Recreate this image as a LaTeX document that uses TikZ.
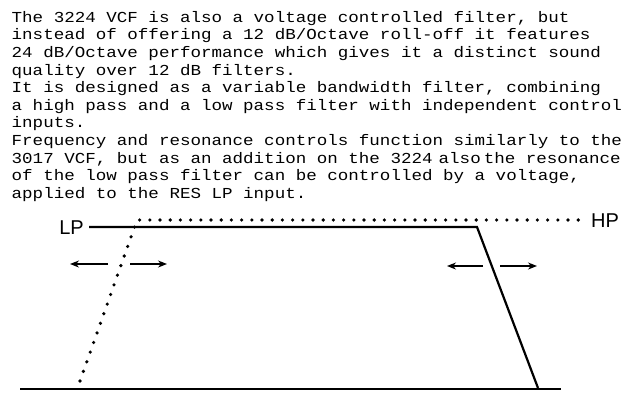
\documentclass[tikz,border=0pt]{standalone}
\usepackage{fontspec}
\setmainfont{Liberation Mono}[FakeStretch=1.15]
\newfontfamily\labelfont{Liberation Sans}
\usetikzlibrary{arrows.meta,positioning}

\begin{document}
\begin{tikzpicture}[x=1pt,y=-1pt,
  response/.style={line width=2.2pt},
  dotted response/.style={line width=3.6pt,line cap=round,dash pattern=on 0pt off 10.2pt},
  cutoffarrow/.style={line width=1.4pt,-{Stealth[length=9pt,width=7pt]}},
  bandlabel/.style={inner sep=0pt,font=\labelfont\fontsize{20}{22}\selectfont}]
  \useasboundingbox (0,0) rectangle (640,405);
  % description text
  \node[anchor=north west,align=left,inner sep=0pt,font=\fontsize{15.25}{17.6}\selectfont] (desc) at (11.5,11)
    {The 3224 VCF is also a voltage controlled filter, but\\
     instead of offering a 12 dB/Octave roll-off it features\\
     24 dB/Octave performance which gives it a distinct sound\\
     quality over 12 dB filters.\\
     It is designed as a variable bandwidth filter, combining\\
     a high pass and a low pass filter with independent control\\
     inputs.\\
     Frequency and resonance controls function similarly to the\\
     3017 VCF, but as an addition on the 3224\kern0.4em also\kern0.2em the resonance\\
     of the low pass filter can be controlled by a voltage,\\
     applied to the RES LP input.};
  \node[bandlabel,anchor=east] (lp) at (84,228) {LP};
  \node[bandlabel,anchor=west] (hp) at (591,221) {HP};
  % corners of the two slopes
  \coordinate (lpstart) at (89,227);
  \coordinate (lpknee) at (477,227);
  \coordinate (lpfoot) at (538,388);
  \coordinate (hpfoot) at (80,381);
  \coordinate (hpknee) at (137,220);
  \coordinate (hpend) at (585,220);
  \coordinate (axisl) at (20,389);
  \coordinate (axisr) at (561,389);
  % low pass
  \draw[response] (lpstart) -- (lpknee) -- (lpfoot);
  % high pass
  \draw[dotted response] (hpfoot) -- (hpknee) -- (hpend);
  \draw[response] (axisl) -- (axisr);
  % arrows
  \coordinate (hpl1) at (108,264);
  \coordinate (hpl2) at (70,264);
  \coordinate (hpr1) at (130,264);
  \coordinate (hpr2) at (167,264);
  \coordinate (lpl1) at (483,266);
  \coordinate (lpl2) at (447,266);
  \coordinate (lpr1) at (500,266);
  \coordinate (lpr2) at (537,266);
  \draw[cutoffarrow] (hpl1) -- (hpl2);
  \draw[cutoffarrow] (hpr1) -- (hpr2);
  \draw[cutoffarrow] (lpl1) -- (lpl2);
  \draw[cutoffarrow] (lpr1) -- (lpr2);
\end{tikzpicture}
\end{document}
